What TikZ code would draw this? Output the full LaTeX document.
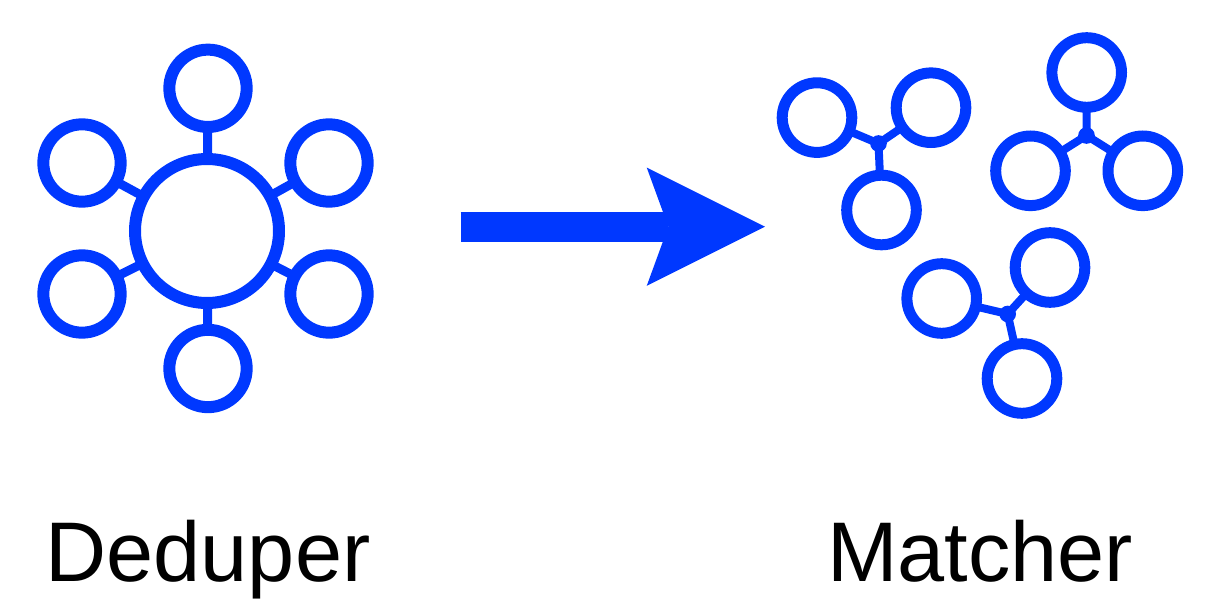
\documentclass[tikz,border=0pt]{standalone}
\usepackage{fontspec}
\setmainfont{Liberation Sans}
\usetikzlibrary{arrows.meta}
\definecolor{dupblue}{RGB}{0,56,255}

\begin{document}
\begin{tikzpicture}[x=0.75pt,y=0.75pt,yscale=-1,
    bigring/.style={circle,draw=dupblue,line width=9pt,inner sep=0pt,minimum size=108pt},
    dupring/.style={circle,draw=dupblue,line width=9pt,inner sep=0pt,minimum size=58pt},
    dupline/.style={draw=dupblue,line width=6.75pt,shorten <=-2pt,shorten >=-2pt},
    matchring/.style={circle,draw=dupblue,line width=8.25pt,inner sep=0pt,minimum size=52.2pt},
    matchdot/.style={circle,fill=dupblue,inner sep=0pt,minimum size=12.5pt},
    matchline/.style={draw=dupblue,line width=6pt,shorten <=-2pt,shorten >=-2pt},
    caption/.style={anchor=base,inner sep=0pt,font=\fontsize{63.5}{76}\selectfont}]
        \useasboundingbox (0,0) rectangle (1207,610); %keep the page at 1207 x 610

        %Deduper: hub with six rings
        \node (hubD) [bigring] at (207,231) {};
        \node (dupT) [dupring] at (208,88.3) {};
        \node (dupB) [dupring] at (208,368.5) {};
        \node (dupTL) [dupring] at (82,163) {};
        \node (dupBL) [dupring] at (82,294) {};
        \node (dupTR) [dupring] at (329,163) {};
        \node (dupBR) [dupring] at (329,294) {};
        \foreach \r in {dupT,dupB,dupTL,dupBL,dupTR,dupBR}
            \draw [dupline] (hubD) -- (\r);

        %Arrow
        \coordinate (arrS) at (460.7,226.7);
        \coordinate (arrT) at (765,226.7);
        \draw [draw=dupblue,line width=22.5pt,-{Stealth[length=88.7pt 0,width=88.7pt 0,inset=16.2pt 0,line width=0pt 0,fill=dupblue]}] (arrS) -- (arrT);

        %Matcher: three groups of three rings
        \node (hubA) [matchdot] at (878.5,143.5) {};
        \node (mA1) [matchring] at (817,117.6) {};
        \node (mA2) [matchring] at (931,107.7) {};
        \node (mA3) [matchring] at (881.5,210) {};
        \node (hubB) [matchdot] at (1086.5,135.5) {};
        \node (mB1) [matchring] at (1086.7,72.5) {};
        \node (mB2) [matchring] at (1030.5,170.8) {};
        \node (mB3) [matchring] at (1142.8,170.8) {};
        \node (hubC) [matchdot] at (1007.7,314) {};
        \node (mC1) [matchring] at (941.7,298.5) {};
        \node (mC2) [matchring] at (1050,267.5) {};
        \node (mC3) [matchring] at (1022,378.5) {};
        \foreach \g in {A,B,C}
            \foreach \i in {1,2,3}
                \draw [matchline] (hub\g) -- (m\g\i);

        % Text Node
        \node (labDedup) [caption] at (208,581.7) {Deduper};
        % Text Node
        \node (labMatch) [caption] at (980,581.7) {Matcher};
    \end{tikzpicture}
\end{document}
